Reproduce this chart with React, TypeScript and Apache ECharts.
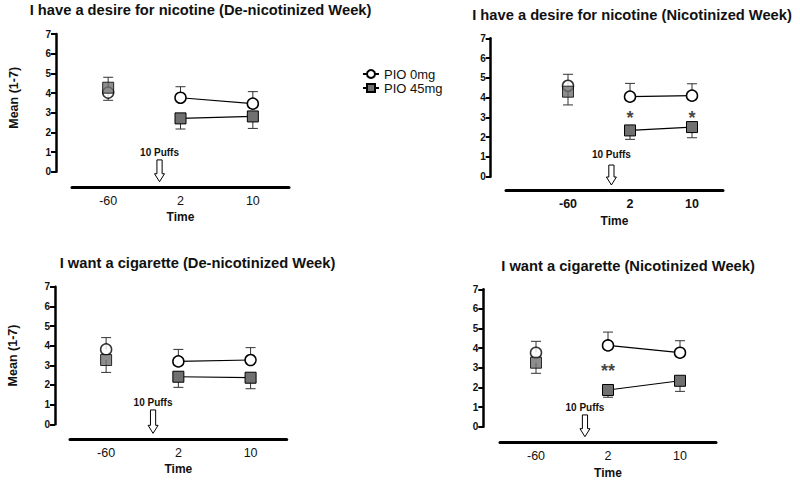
import React, { useEffect, useRef } from 'react';
import * as echarts from 'echarts';

// ---------- data ----------
const times = ['-60', '2', '10'];
const seriesNames = ['PIO 0mg', 'PIO 45mg'];
const titles = [
  'I have a desire for nicotine (De-nicotinized Week)',
  'I have a desire for nicotine (Nicotinized Week)',
  'I want a cigarette (De-nicotinized Week)',
  'I want a cigarette (Nicotinized Week)',
];
const yAxisName = 'Mean (1-7)';
const xAxisName = 'Time';
const arrowLabel = '10 Puffs';

// Panel A: desire for nicotine, de-nicotinized week
const desireDeNic0 = [4.02, 3.76, 3.46];
const desireDeNic0ErrEnd = [3.63, 4.32, 4.07];
const desireDeNic45 = [4.27, 2.71, 2.81];
const desireDeNic45ErrEnd = [4.8, 2.17, 2.2];
// Panel B: desire for nicotine, nicotinized week
const desireNic0 = [4.6, 4.05, 4.1];
const desireNic0ErrEnd = [5.18, 4.72, 4.7];
const desireNic45 = [4.3, 2.34, 2.51];
const desireNic45ErrEnd = [3.63, 1.89, 1.97];
// Panel C: want a cigarette, de-nicotinized week
const cigDeNic0 = [3.81, 3.2, 3.27];
const cigDeNic0ErrEnd = [4.41, 3.81, 3.9];
const cigDeNic45 = [3.27, 2.42, 2.37];
const cigDeNic45ErrEnd = [2.64, 1.88, 1.81];
// Panel D: want a cigarette, nicotinized week
const cigNic0 = [3.77, 4.14, 3.77];
const cigNic0ErrEnd = [4.35, 4.82, 4.38];
const cigNic45 = [3.26, 1.87, 2.34];
const cigNic45ErrEnd = [2.72, 1.5, 1.8];

// significance marks: [category index, y value, text]
const sigA: [number, number, string][] = [];
const sigB: [number, number, string][] = [[1, 2.95, '*'], [2, 2.95, '*']];
const sigC: [number, number, string][] = [];
const sigD: [number, number, string][] = [[1, 2.85, '**']];

// puff arrow annotation: [x (category units), top value, tip value, label value]
const arrowA = [0.71, 0.6, -0.51, 0.99];
const arrowB = [0.7, 0.59, -0.42, 1.13];
const arrowC = [0.65, 0.73, -0.46, 1.12];
const arrowD = [0.68, 0.6, -0.51, 0.99];

const panelData = [
  { v0: desireDeNic0, e0: desireDeNic0ErrEnd, v45: desireDeNic45, e45: desireDeNic45ErrEnd, sig: sigA, arrow: arrowA },
  { v0: desireNic0, e0: desireNic0ErrEnd, v45: desireNic45, e45: desireNic45ErrEnd, sig: sigB, arrow: arrowB },
  { v0: cigDeNic0, e0: cigDeNic0ErrEnd, v45: cigDeNic45, e45: cigDeNic45ErrEnd, sig: sigC, arrow: arrowC },
  { v0: cigNic0, e0: cigNic0ErrEnd, v45: cigNic45, e45: cigNic45ErrEnd, sig: sigD, arrow: arrowD },
];

// ---------- layout ----------
const layouts = [
  { left: 72, top: 34, width: 217, height: 137.7, xOffset: 15.6, yOffset: 16, xMin: -0.5, xMax: 2.5, titleX: 200.5, titleY: 10, boldX: false, yName: true, yNamePad: 10 },
  { left: 506, top: 38.3, width: 217, height: 138.4, xOffset: 14, yOffset: 15.3, xMin: -1, xMax: 2.5, titleX: 632, titleY: 15, boldX: true, yName: false, yNamePad: 0 },
  { left: 70, top: 286.7, width: 216.7, height: 137.6, xOffset: 15, yOffset: 15, xMin: -0.5, xMax: 2.5, titleX: 197.5, titleY: 263.3, boldX: false, yName: true, yNamePad: 0 },
  { left: 500, top: 289.3, width: 216, height: 137.4, xOffset: 16, yOffset: 16.7, xMin: -0.5, xMax: 2.5, titleX: 628, titleY: 266, boldX: false, yName: false, yNamePad: 0 },
];

const FONT = '"Liberation Sans", Arial, Helvetica, sans-serif';

function errorBarSeries(i: number, vals: number[], ends: number[]) {
  return {
    type: 'custom',
    xAxisIndex: i,
    yAxisIndex: i,
    z: 1,
    clip: false,
    silent: true,
    encode: { x: 0, y: [1, 2] },
    data: vals.map((v, k) => [k, v, ends[k]]),
    renderItem: (_p: any, api: any) => {
      const x = api.value(0);
      const p0 = api.coord([x, api.value(1)]);
      const p1 = api.coord([x, api.value(2)]);
      const hw = 5;
      return {
        type: 'group',
        children: [
          { type: 'line', shape: { x1: p0[0], y1: p0[1], x2: p1[0], y2: p1[1] }, style: { stroke: '#333', lineWidth: 1 } },
          { type: 'line', shape: { x1: p1[0] - hw, y1: p1[1], x2: p1[0] + hw, y2: p1[1] }, style: { stroke: '#333', lineWidth: 1 } },
        ],
      };
    },
  };
}

const circleStyle = { color: '#ffffff', borderColor: '#000000', borderWidth: 1.5 };
const squareStyle = { color: '#707070', borderColor: '#000000', borderWidth: 1 };

function buildOption() {
  const grid: any[] = [];
  const xAxis: any[] = [];
  const yAxis: any[] = [];
  const series: any[] = [];
  const graphic: any[] = [];

  layouts.forEach((L, i) => {
    const d = panelData[i];
    grid.push({ left: L.left, top: L.top, width: L.width, height: L.height, containLabel: false });
    xAxis.push({
      type: 'value',
      gridIndex: i,
      position: 'bottom',
      min: L.xMin,
      max: L.xMax,
      interval: 0.5,
      offset: L.xOffset,
      axisLine: { show: true, onZero: false, lineStyle: { color: '#000', width: 3 } },
      axisTick: { show: false },
      splitLine: { show: false },
      axisLabel: {
        color: '#111',
        fontFamily: FONT,
        fontSize: 12.5,
        fontWeight: L.boldX ? 'bold' : 'normal',
        margin: 7,
        showMinLabel: true,
        showMaxLabel: true,
        formatter: (v: number) => (Number.isInteger(v) && v >= 0 && v < times.length ? times[v] : ''),
      },
      name: xAxisName,
      nameLocation: 'middle',
      nameGap: 24,
      nameTextStyle: { color: '#111', fontFamily: FONT, fontSize: 12, fontWeight: 'bold' },
    });
    yAxis.push({
      type: 'value',
      gridIndex: i,
      position: 'left',
      min: 0,
      max: 7,
      interval: 1,
      offset: L.yOffset,
      axisLine: { show: true, onZero: false, lineStyle: { color: '#000', width: 2.5 } },
      axisTick: { show: true, length: 5, lineStyle: { color: '#000', width: 2 } },
      splitLine: { show: false },
      axisLabel: { color: '#111', fontFamily: FONT, fontSize: 10, fontWeight: 'bold', margin: 5 },
      name: L.yName ? yAxisName : '',
      nameLocation: 'middle',
      nameGap: 36,
      nameTextStyle: { color: '#111', fontFamily: FONT, fontSize: 12.5, fontWeight: 'bold', padding: [0, 0, 0, L.yNamePad] },
    });

    series.push(errorBarSeries(i, d.v0, d.e0));
    series.push(errorBarSeries(i, d.v45, d.e45));

    const groups = [
      { name: seriesNames[0], vals: d.v0, symbol: 'circle', size: 11, style: circleStyle, z: 3 },
      { name: seriesNames[1], vals: d.v45, symbol: 'rect', size: 11, style: squareStyle, z: 4 },
    ];
    groups.forEach((g) => {
      series.push({
        type: 'line',
        name: g.name,
        xAxisIndex: i,
        yAxisIndex: i,
        z: g.z,
        symbol: g.symbol,
        symbolSize: g.size,
        showSymbol: true,
        clip: false,
        itemStyle: g.style,
        lineStyle: { color: '#000', width: 1.2 },
        data: g.vals.slice(1).map((v, k) => [k + 1, v]),
      });
      series.push({
        type: 'scatter',
        name: g.name,
        xAxisIndex: i,
        yAxisIndex: i,
        z: g.z,
        symbol: g.symbol,
        symbolSize: g.size,
        itemStyle: g.style,
        data: [[0, g.vals[0]]],
      });
    });

    // puff arrow annotation
    series.push({
      type: 'custom',
      xAxisIndex: i,
      yAxisIndex: i,
      z: 5,
      clip: false,
      silent: true,
      encode: { x: 0, y: 1 },
      data: [d.arrow],
      renderItem: (_p: any, api: any) => {
        const x = api.value(0);
        const top = api.coord([x, api.value(1)]);
        const tip = api.coord([x, api.value(2)]);
        const lab = api.coord([x, api.value(3)]);
        const cx = tip[0];
        const sw = 2.6;
        const hw = 5;
        const hh = 8;
        return {
          type: 'group',
          children: [
            {
              type: 'polygon',
              shape: {
                points: [
                  [cx - sw, top[1]], [cx + sw, top[1]], [cx + sw, tip[1] - hh], [cx + hw, tip[1] - hh],
                  [cx, tip[1]], [cx - hw, tip[1] - hh], [cx - sw, tip[1] - hh],
                ],
              },
              style: { fill: '#fff', stroke: '#000', lineWidth: 1 },
            },
            {
              type: 'text',
              x: cx,
              y: lab[1],
              style: { text: arrowLabel, fill: '#111', fontFamily: FONT, fontSize: 10, fontWeight: 'bold', align: 'center', verticalAlign: 'middle' },
            },
          ],
        };
      },
    });

    if (d.sig.length) {
      series.push({
        type: 'scatter',
        xAxisIndex: i,
        yAxisIndex: i,
        z: 5,
        silent: true,
        symbolSize: 0,
        data: d.sig.map((s) => [s[0], s[1], s[2]]),
        label: {
          show: true,
          position: 'inside',
          formatter: (p: any) => p.value[2],
          color: '#111',
          fontFamily: FONT,
          fontSize: 18,
          fontWeight: 'bold',
        },
      });
    }

    graphic.push({
      type: 'text',
      x: L.titleX,
      y: L.titleY,
      style: { text: titles[i], fill: '#111', fontFamily: FONT, fontSize: 14.7, fontWeight: 'bold', align: 'center', verticalAlign: 'middle' },
    });
  });

  return {
    animation: false,
    backgroundColor: '#ffffff',
    grid,
    xAxis,
    yAxis,
    series,
    graphic,
    legend: {
      data: seriesNames,
      orient: 'vertical',
      left: 357,
      top: 62,
      itemWidth: 16,
      itemHeight: 10,
      itemGap: 0,
      textStyle: { color: '#111', fontFamily: FONT, fontSize: 13, lineHeight: 14 },
      selectedMode: false,
    },
  };
}

export default function App() {
  const ref = useRef<HTMLDivElement>(null);
  useEffect(() => {
    if (!ref.current) return;
    const chart = echarts.init(ref.current, undefined, { renderer: 'svg' });
    chart.setOption(buildOption() as any);
    return () => chart.dispose();
  }, []);
  return <div ref={ref} style={{ position: 'fixed', left: 0, top: 0, width: 800, height: 481, background: '#fff' }} />;
}
